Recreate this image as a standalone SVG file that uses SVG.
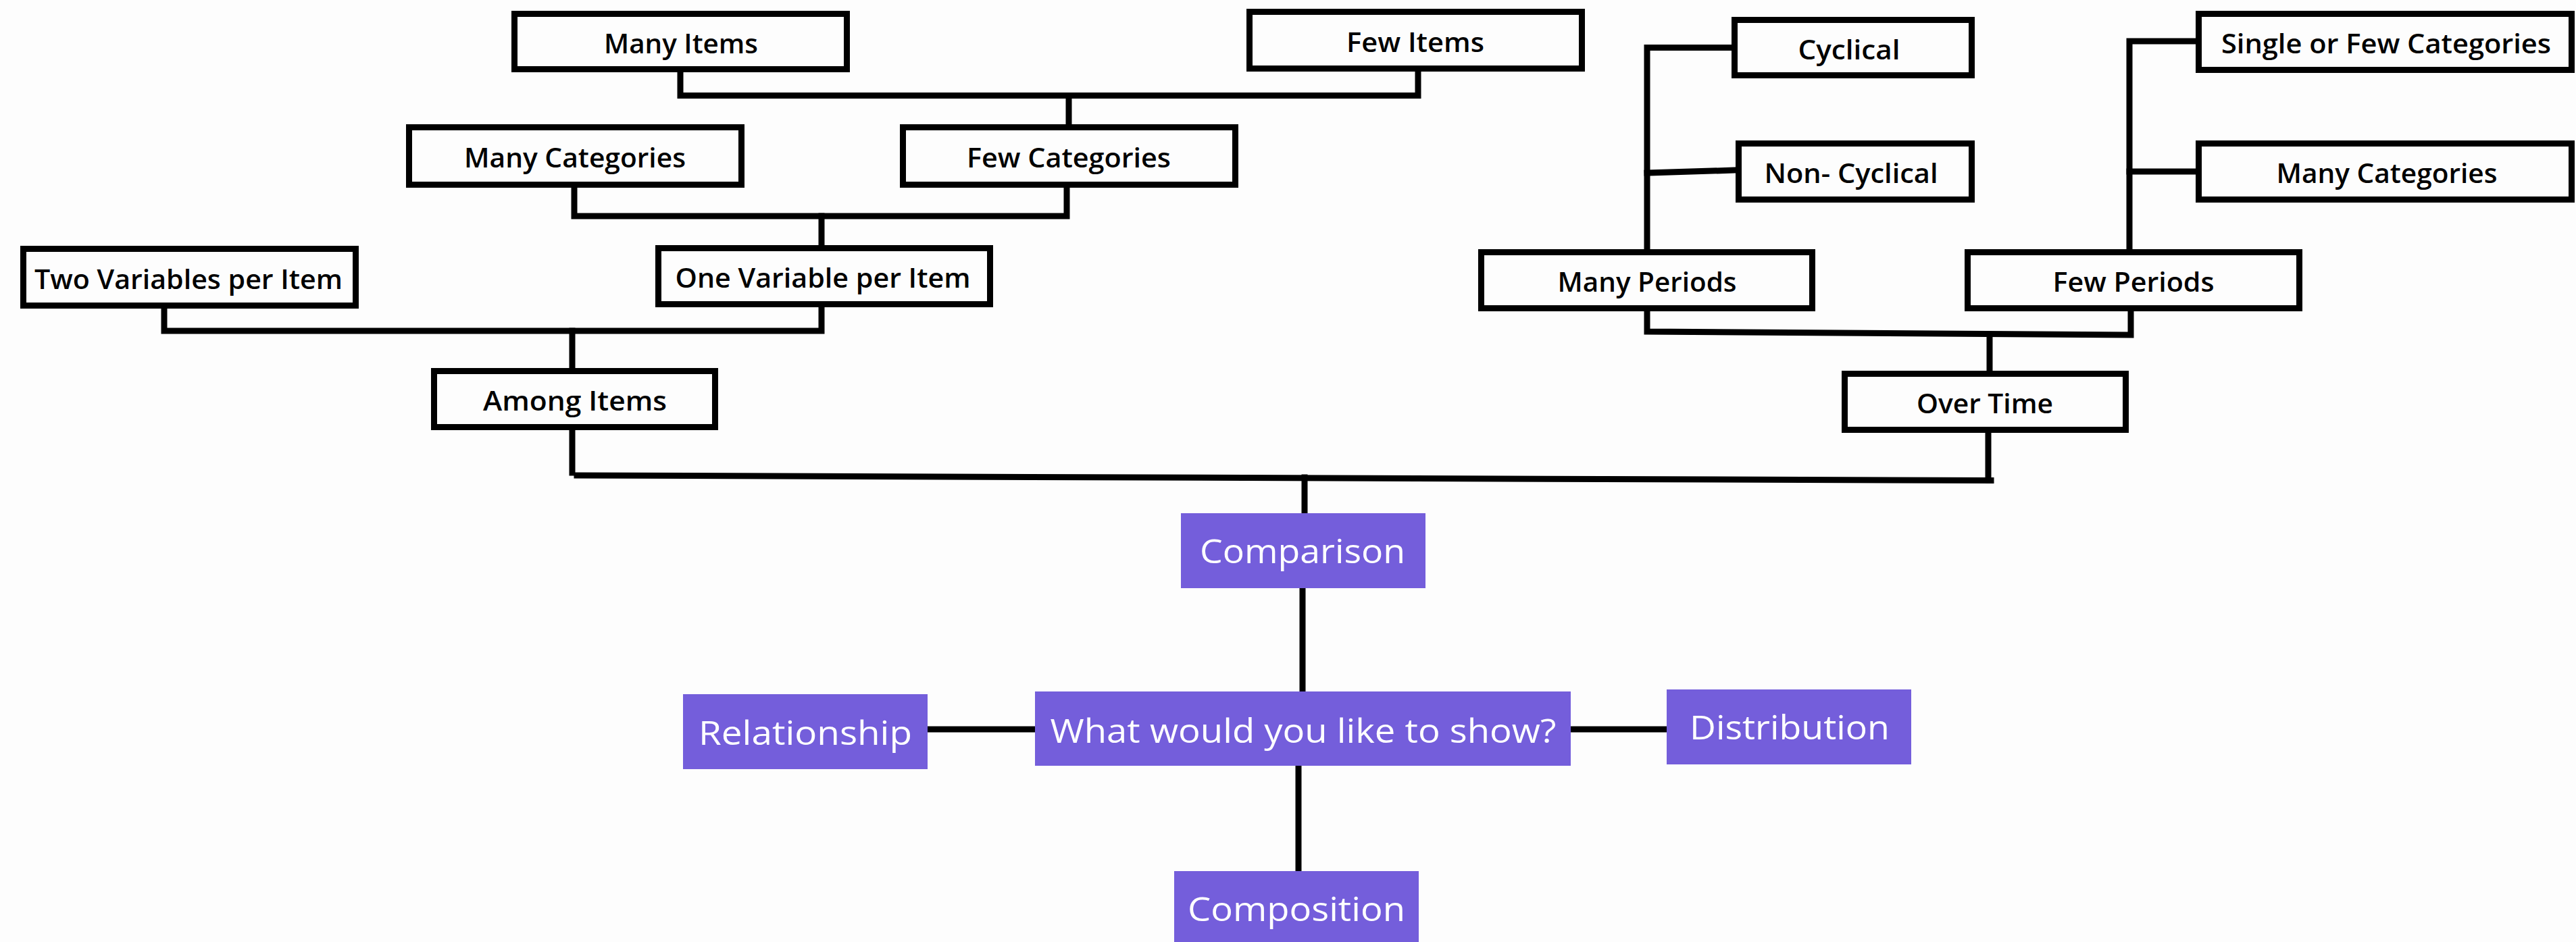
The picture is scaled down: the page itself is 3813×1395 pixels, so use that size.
<svg xmlns="http://www.w3.org/2000/svg" width="3813" height="1395" viewBox="0 0 3813 1395">
  <style>
    .box { fill: #fdfdfd; stroke: #000; stroke-width: 9; }
    .pbox { fill: #745edb; }
    .lbl { font-family: "Open Sans", "Liberation Sans", sans-serif; font-weight: 600; font-size: 40px; fill: #000; text-anchor: middle; }
    .plbl { font-family: "Open Sans", "Liberation Sans", sans-serif; font-weight: 500; font-size: 50px; fill: #fff; text-anchor: middle; }
    .wire { fill: none; stroke: #000; stroke-width: 9; stroke-linejoin: miter; stroke-linecap: square; }
  </style>

  <rect width="3813" height="1395" fill="#fdfdfd"/>

  <!-- connectors -->
  <g id="connectors">
    <!-- item count split -->
    <path class="wire" d="M1007,107 V141.5 H2099 V106"/>
    <path class="wire" d="M1582,141.5 V184"/>
    <!-- category count split -->
    <path class="wire" d="M850,278 V320 H1579 V278"/>
    <path class="wire" d="M1216,320 V363"/>
    <!-- variables per item split -->
    <path class="wire" d="M243,457 V490 H1216 V455"/>
    <path class="wire" d="M847,490 V545"/>
    <!-- comparison bar -->
    <path class="wire" d="M847,637 V700"/>
    <path class="wire" d="M854,704 L2947,711.5"/>
    <path class="wire" d="M2943,641 V711"/>
    <path class="wire" d="M1931,707 V760"/>
    <!-- many periods branch -->
    <path class="wire" d="M2563,70.5 H2438 V369"/>
    <path class="wire" d="M2438,256 L2569,252"/>
    <!-- periods split -->
    <path class="wire" d="M2438,461 V491 L3154,496 V461"/>
    <path class="wire" d="M2945,496 V549"/>
    <!-- few periods branch -->
    <path class="wire" d="M3250,61 H3152 V369"/>
    <path class="wire" d="M3152,254 H3250"/>
    <!-- central question -->
    <path class="wire" d="M1928,871 V1024"/>
    <path class="wire" d="M1373,1080 H1532"/>
    <path class="wire" d="M2325,1080 H2467"/>
    <path class="wire" d="M1922,1134 V1290"/>
  </g>

  <!-- comparison tree nodes -->
  <g id="many-items"><rect class="box" x="761.5" y="20.5" width="492" height="82"/><text class="lbl" x="1008" y="79" textLength="228" lengthAdjust="spacingAndGlyphs">Many Items</text></g>
  <g id="few-items"><rect class="box" x="1849.5" y="17.5" width="492" height="84"/><text class="lbl" x="2095" y="77" textLength="204" lengthAdjust="spacingAndGlyphs">Few Items</text></g>
  <g id="many-categories-items"><rect class="box" x="605.5" y="188.5" width="492" height="85"/><text class="lbl" x="851" y="248" textLength="328" lengthAdjust="spacingAndGlyphs">Many Categories</text></g>
  <g id="few-categories"><rect class="box" x="1336.5" y="188.5" width="492" height="85"/><text class="lbl" x="1582" y="248" textLength="302" lengthAdjust="spacingAndGlyphs">Few Categories</text></g>
  <g id="two-variables"><rect class="box" x="34.5" y="368.5" width="492" height="84"/><text class="lbl" x="279" y="428" textLength="456" lengthAdjust="spacingAndGlyphs">Two Variables per Item</text></g>
  <g id="one-variable"><rect class="box" x="974.5" y="367.5" width="491" height="83"/><text class="lbl" x="1218" y="426" textLength="437" lengthAdjust="spacingAndGlyphs">One Variable per Item</text></g>
  <g id="among-items"><rect class="box" x="642.5" y="549.5" width="416" height="83"/><text class="lbl" x="851" y="608" textLength="272" lengthAdjust="spacingAndGlyphs">Among Items</text></g>

  <g id="cyclical"><rect class="box" x="2567.5" y="29.5" width="351" height="82"/><text class="lbl" x="2737" y="88" textLength="151" lengthAdjust="spacingAndGlyphs">Cyclical</text></g>
  <g id="non-cyclical"><rect class="box" x="2573.5" y="212.5" width="345" height="83"/><text class="lbl" x="2740" y="271" textLength="257" lengthAdjust="spacingAndGlyphs">Non- Cyclical</text></g>
  <g id="many-periods"><rect class="box" x="2192.5" y="373.5" width="490" height="83"/><text class="lbl" x="2438" y="432" textLength="265" lengthAdjust="spacingAndGlyphs">Many Periods</text></g>
  <g id="few-periods"><rect class="box" x="2912.5" y="373.5" width="491" height="83"/><text class="lbl" x="3158" y="432" textLength="239" lengthAdjust="spacingAndGlyphs">Few Periods</text></g>
  <g id="over-time"><rect class="box" x="2730.5" y="553.5" width="416" height="83"/><text class="lbl" x="2938" y="612" textLength="202" lengthAdjust="spacingAndGlyphs">Over Time</text></g>
  <g id="single-few-categories"><rect class="box" x="3254.5" y="20.5" width="552" height="83"/><text class="lbl" x="3532" y="79" textLength="488" lengthAdjust="spacingAndGlyphs">Single or Few Categories</text></g>
  <g id="many-categories-time"><rect class="box" x="3254.5" y="212.5" width="552" height="83"/><text class="lbl" x="3533" y="271" textLength="327" lengthAdjust="spacingAndGlyphs">Many Categories</text></g>

  <!-- chart purpose nodes -->
  <g id="comparison"><rect class="pbox" x="1748" y="760" width="362" height="111"/><text class="plbl" x="1928" y="834" textLength="304" lengthAdjust="spacingAndGlyphs">Comparison</text></g>
  <g id="question"><rect class="pbox" x="1532" y="1024" width="793" height="110"/><text class="plbl" x="1929" y="1100" font-size="53" textLength="749" lengthAdjust="spacingAndGlyphs">What would you like to show?</text></g>
  <g id="relationship"><rect class="pbox" x="1011" y="1028" width="362" height="111"/><text class="plbl" x="1192" y="1103" textLength="316" lengthAdjust="spacingAndGlyphs">Relationship</text></g>
  <g id="distribution"><rect class="pbox" x="2467" y="1021" width="362" height="111"/><text class="plbl" x="2649" y="1095" textLength="296" lengthAdjust="spacingAndGlyphs">Distribution</text></g>
  <g id="composition"><rect class="pbox" x="1738" y="1290" width="362" height="110"/><text class="plbl" x="1919" y="1364" textLength="322" lengthAdjust="spacingAndGlyphs">Composition</text></g>
</svg>
